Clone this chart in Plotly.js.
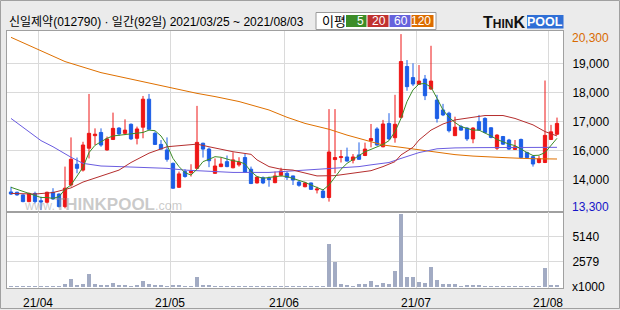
<!DOCTYPE html>
<html>
<head>
<meta charset="utf-8">
<script src="https://cdn.plot.ly/plotly-3.0.1.min.js"></script>
<style>
html,body{margin:0;padding:0;background:#ebebeb;}
#chart{width:620px;height:310px;}
</style>
</head>
<body>
<div id="chart"></div>
<script>
// ---------------- DATA ----------------
const dates = [
'2021-03-25','2021-03-26','2021-03-29','2021-03-30','2021-03-31',
'2021-04-01','2021-04-02','2021-04-05','2021-04-06','2021-04-07','2021-04-08','2021-04-09',
'2021-04-12','2021-04-13','2021-04-14','2021-04-15','2021-04-16',
'2021-04-19','2021-04-20','2021-04-21','2021-04-22','2021-04-23',
'2021-04-26','2021-04-27','2021-04-28','2021-04-29','2021-04-30',
'2021-05-03','2021-05-04','2021-05-06','2021-05-07',
'2021-05-10','2021-05-11','2021-05-12','2021-05-13','2021-05-14',
'2021-05-17','2021-05-18','2021-05-20','2021-05-21',
'2021-05-24','2021-05-25','2021-05-26','2021-05-27','2021-05-28','2021-05-31',
'2021-06-01','2021-06-02','2021-06-03','2021-06-04',
'2021-06-07','2021-06-08','2021-06-09','2021-06-10','2021-06-11',
'2021-06-14','2021-06-15','2021-06-16','2021-06-17','2021-06-18',
'2021-06-21','2021-06-22','2021-06-23','2021-06-24','2021-06-25',
'2021-06-28','2021-06-29','2021-06-30',
'2021-07-01','2021-07-02',
'2021-07-05','2021-07-06','2021-07-07','2021-07-08','2021-07-09',
'2021-07-12','2021-07-13','2021-07-14','2021-07-15','2021-07-16',
'2021-07-19','2021-07-20','2021-07-21','2021-07-22','2021-07-23',
'2021-07-26','2021-07-27','2021-07-28','2021-07-29','2021-07-30',
'2021-08-02','2021-08-03'];

const openP = [14590,14580,14490,14260,14540,14290,14240,14580,14520,14090,
14830,15540,15340,16090,16520,16630,16030,16390,16780,16600,
16910,16430,16810,17770,16600,16220,16030,15570,14750,15290,
15250,15400,16260,16060,15230,15460,15630,15420,15520,15770,
15370,14900,15080,15060,14910,15160,15230,15140,14930,14770,
14900,14660,14620,14400,15700,15770,15790,15680,15860,15840,
16350,16750,16140,16940,16450,17150,18890,18510,18280,18460,
18120,17740,17400,17290,16520,16830,16780,16410,17000,17110,
16790,16090,16490,16370,16050,16390,15940,15800,15600,15600,
16390,16570];
const highP = [14770,14600,14510,14570,14600,14430,14600,14720,14540,15460,
16460,15770,16310,17950,16770,16770,16490,17310,16810,17080,
16940,16830,17880,17950,16660,16370,16460,15600,15290,15370,
15540,17540,16280,16110,15740,15770,15840,15950,15780,15890,
15460,15120,15120,15120,15290,15420,15290,15150,14980,14940,
14910,14770,14680,17430,17430,16030,16110,15890,16290,16280,
16920,16810,17060,17290,17920,20000,19110,19000,18940,18600,
19600,17920,17610,17340,17170,16890,16810,16810,17230,17150,
16810,16570,16510,16410,16370,16420,15970,15840,15820,18410,
16890,17140];
const lowP = [14490,14460,14240,14240,14200,13970,14200,14320,14060,14030,
14770,15230,15290,15740,16200,16140,16010,16370,16510,16540,
16370,16220,16430,16710,16200,16050,15630,14700,14730,15080,
15120,15370,15770,15440,15210,15440,15440,15400,15460,15250,
14860,14880,14860,14770,14890,15120,15000,14830,14770,14750,
14660,14540,14370,14260,15230,15600,15630,15570,15690,15820,
16120,16180,16120,16370,16280,17110,18060,18220,18260,17740,
18090,16970,17190,16630,16510,16690,16340,16260,16690,16600,
16430,16030,16200,16030,16030,15740,15740,15460,15570,15580,
16370,16540];
const closeP = [14520,14490,14260,14540,14260,14250,14580,14350,14090,14720,
15710,15400,16200,16600,16570,16200,16410,16770,16580,16710,
16410,16750,17770,16740,16220,16060,15710,14720,15210,15120,
15300,16290,16060,15660,15480,15550,15460,15690,15610,15260,
14880,15100,14900,15020,15140,15310,15090,15000,14820,14900,
14680,14690,14400,15960,15770,15800,15650,15790,15710,16060,
16420,16200,16920,16410,16910,19060,18200,18290,18390,17890,
18390,17110,17230,16690,16810,16710,16410,16780,16710,16630,
16460,16540,16230,16060,16140,15770,15770,15550,15730,16530,
16650,16940];

// volume in thousands of shares
const volume = [110,100,120,100,110,100,120,100,110,300,
820,240,340,1330,300,240,240,410,240,240,
100,200,610,300,240,240,130,200,200,110,
110,1020,240,200,110,100,110,100,110,100,
100,110,100,110,100,100,110,100,110,100,
110,100,110,4400,2590,340,200,150,340,340,
640,240,440,340,1670,7480,1020,1020,540,440,
2050,720,340,340,340,130,200,200,200,130,
130,120,130,120,130,120,130,120,130,1950,
200,200];

// moving averages
const ma5 = [14750,14680,14620,14540,14490,14400,14400,14370,14430,14680,
14830,15120,15440,15940,16190,16310,16430,16510,16530,16550,
16570,16590,16630,16710,16690,16510,16200,15740,15460,15250,
15170,15370,15630,15710,15800,15780,15710,15660,15630,15550,
15290,15120,15060,15080,15120,15140,15120,15060,14980,14920,
14830,14750,14660,14830,15120,15370,15570,15710,15820,15970,
16050,16140,16220,16350,16660,17110,17690,18090,18290,18310,
18180,17800,17400,17150,16970,16830,16770,16710,16710,16620,
16510,16390,16310,16230,16180,16050,15940,15840,15850,15940,
16200,16430];
const ma20Idx = [0,4,7,10,12,15,18,20,23,26,29,31,33,35,37,40,41,43,45,47,49,51,54,57,60,62,64,65,67,68,70,72,74,77,79,82,84,87,89,91];
const ma20Val = [14540,14520,14570,14730,14930,15140,15340,15600,15920,16140,16200,16230,16140,16060,15970,15880,15690,15460,15370,15340,15250,15140,15150,15230,15320,15460,15630,15860,16120,16370,16710,16920,17060,17150,17210,17210,17110,16890,16660,16510];
const ma60Idx = [0,5,7,10,12,15,18,21,26,29,33,37,43,47,51,54,58,60,63,65,68,71,74,78,84,91];
const ma60Val = [17110,16350,16140,15780,15570,15480,15460,15440,15400,15340,15290,15260,15260,15310,15370,15400,15460,15520,15600,15740,15940,16070,16100,16110,16110,16120];
const ma120Idx = [0,4,9,15,20,26,31,34,38,43,46,49,53,56,60,62,65,68,71,74,77,80,83,87,91];
const ma120Val = [19890,19510,19060,18680,18450,18180,17970,17860,17690,17400,17150,16940,16740,16540,16310,16200,16120,16030,15950,15870,15820,15780,15760,15730,15720];

const priceTickVals = [19000,18000,17000,16000,15000];
const priceTickText = ['19,000','18,000','17,000','16,000','14,000'];
const volTickVals = [2579,5140];
const volTickText = ['2579','5140'];
const maxLabel = '20,300';
const minLabel = '13,300';
const headerText = '신일제약(012790) · 일간(92일) 2021/03/25 ~ 2021/08/03';
const maNames = ['5','20','60','120'];

// ---------------- BUILD ----------------
const xi = dates.map((d, i) => i);
const monthTickVals = [], monthTickText = [];
dates.forEach((d, i) => {
  if (i > 0 && d.slice(5,7) !== dates[i-1].slice(5,7)) {
    monthTickVals.push(i - 0.5);
    monthTickText.push(d.slice(2,4) + '/' + d.slice(5,7));
  }
});

const RED = '#ee1616', BLUE = '#1c5ee6';
const C5 = '#3c8c28', C20 = '#b52e2e', C60 = '#6a5ce0', C120 = '#df7000';
const FONT = 'Liberation Sans, Noto Sans CJK KR, Arial, sans-serif';

const traces = [
  {type:'bar', x: xi, y: volume, xaxis:'x2', yaxis:'y2', width:0.75,
   marker:{color:'#a2abc3', line:{width:0}}, hoverinfo:'skip'},
  {type:'candlestick', x: xi, open: openP, high: highP, low: lowP, close: closeP,
   xaxis:'x', yaxis:'y', whiskerwidth:0,
   increasing:{line:{color:RED, width:1}, fillcolor:RED},
   decreasing:{line:{color:BLUE, width:1}, fillcolor:BLUE}, hoverinfo:'skip'},
  {type:'scatter', mode:'lines', x: ma120Idx, y: ma120Val, line:{color:C120, width:1}, hoverinfo:'skip'},
  {type:'scatter', mode:'lines', x: ma60Idx, y: ma60Val, line:{color:C60, width:1}, hoverinfo:'skip'},
  {type:'scatter', mode:'lines', x: ma20Idx, y: ma20Val, line:{color:C20, width:1}, hoverinfo:'skip'},
  {type:'scatter', mode:'lines', x: xi, y: ma5, line:{color:C5, width:1}, hoverinfo:'skip'}
];

// pixel -> paper helpers (plot area: x 7..563, y 31..288)
const L = 7, R = 57, T = 31, B = 22, W = 620, H = 310;
const PW = W - L - R, PH = H - T - B;
const PX = x => (x - L) / PW;
const PY = y => (H - B - y) / PH;
const split = (H - B - 212) / PH;

const shapes = [
  {type:'rect', xref:'paper', yref:'paper', x0:PX(0.5), x1:PX(619.5), y0:PY(0.5), y1:PY(308.5),
   line:{color:'#a0a0a0', width:1}, layer:'below'},
  {type:'rect', xref:'paper', yref:'paper', x0:PX(316), x1:PX(436), y0:PY(12.5), y1:PY(29.5),
   fillcolor:'#ffffff', line:{color:'#9a9a9a', width:1}},
  {type:'rect', xref:'paper', yref:'paper', x0:PX(346), x1:PX(366.5), y0:PY(15), y1:PY(27), fillcolor:C5, line:{width:0}},
  {type:'rect', xref:'paper', yref:'paper', x0:PX(367.5), x1:PX(388.5), y0:PY(15), y1:PY(27), fillcolor:'#c0312f', line:{width:0}},
  {type:'rect', xref:'paper', yref:'paper', x0:PX(389.5), x1:PX(410.5), y0:PY(15), y1:PY(27), fillcolor:'#6662dc', line:{width:0}},
  {type:'rect', xref:'paper', yref:'paper', x0:PX(411.5), x1:PX(433.5), y0:PY(15), y1:PY(27), fillcolor:'#dc6c00', line:{width:0}},
  {type:'rect', xref:'paper', yref:'paper', x0:PX(527), x1:PX(563.5), y0:PY(15), y1:PY(28.5), fillcolor:'#2f6fd6', line:{width:0}}
];

const ann = (x, y, text, opts) => Object.assign({xref:'paper', yref:'paper', x:PX(x), y:PY(y), text:text,
  showarrow:false, xanchor:'left', yanchor:'middle', font:{family:FONT, size:12, color:'#000'}}, opts || {});

const badgeRights = [365.5, 387.5, 409.5, 432.5];
const annotations = [
  ann(6.5, 22, headerText),
  ann(320, 21, '이평', {font:{family:'Noto Sans CJK KR', size:13, color:'#000'}}),
  ...maNames.map((n, k) => ann(badgeRights[k], 21.5, n, {xanchor:'right', font:{family:FONT, size:12, color:'#fff'}})),
  ann(481, 22.5, '<b><span style="font-size:16px">T</span>HIN<span style="font-size:16px">K</span></b>',
      {font:{family:FONT, size:12, color:'#111'}}),
  ann(545.3, 22, '<b>POOL</b>', {xanchor:'center', font:{family:FONT, size:12.5, color:'#fff'}}),
  ann(570, 37.5, maxLabel, {font:{family:FONT, size:12, color:'#d86a00'}}),
  ann(570, 207, minLabel, {font:{family:FONT, size:12, color:'#1515c8'}}),
  ann(570, 286.5, 'x1000', {font:{family:FONT, size:12, color:'#000'}}),
  ann(22, 204.5, 'www.<b><span style="font-size:17px">THINKPOOL</span></b>.com',
      {font:{family:FONT, size:12.5, color:'rgba(150,150,150,0.5)'}})
];

const gridC = '#dadada', lineC = '#a0a0a0';
const layout = {
  width: W, height: H, autosize:false,
  margin:{l:L, r:R, t:T, b:B, pad:0},
  paper_bgcolor:'#ebebeb', plot_bgcolor:'#ffffff',
  showlegend:false,
  font:{family:FONT, size:12, color:'#000'},
  boxgap:0.22,
  bargap:0,
  xaxis:{domain:[0,1], anchor:'y', range:[-0.667, 92.0], tickmode:'array', tickvals:monthTickVals,
    showticklabels:false, ticks:'', showgrid:true, gridcolor:gridC, gridwidth:1, zeroline:false,
    showline:true, mirror:true, linecolor:lineC, linewidth:1, rangeslider:{visible:false}, fixedrange:true},
  xaxis2:{domain:[0,1], anchor:'y2', matches:'x', range:[-0.667, 92.0], tickmode:'array', tickvals:monthTickVals,
    ticktext:monthTickText, ticks:'', ticklabelstandoff:4, showgrid:true, gridcolor:gridC, zeroline:false,
    showline:true, mirror:true, linecolor:lineC, linewidth:1, tickfont:{family:FONT, size:12, color:'#000'}},
  yaxis:{domain:[split, 1], anchor:'x', side:'right', range:[13904, 20107], tickmode:'array',
    tickvals:priceTickVals, ticktext:priceTickText, ticks:'', ticklabelstandoff:6,
    showgrid:true, gridcolor:gridC, zeroline:false, showline:true, mirror:true, linecolor:lineC, linewidth:1,
    tickfont:{family:FONT, size:12, color:'#000'}},
  yaxis2:{domain:[0, split], anchor:'x2', side:'right', range:[-100, 7680], tickmode:'array',
    tickvals:volTickVals, ticktext:volTickText, ticks:'', ticklabelstandoff:6,
    showgrid:true, gridcolor:gridC, zeroline:false, showline:true, mirror:true, linecolor:lineC, linewidth:1,
    tickfont:{family:FONT, size:12, color:'#000'}},
  shapes: shapes,
  annotations: annotations
};

Plotly.newPlot('chart', traces, layout, {staticPlot:true, displayModeBar:false});
</script>
</body>
</html>
